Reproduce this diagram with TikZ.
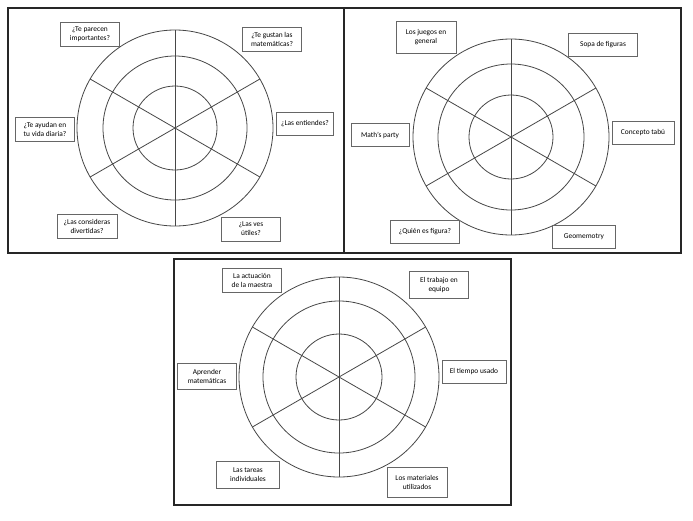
\documentclass[tikz,border=0pt]{standalone}
\usepackage{fontspec}
\setmainfont{Carlito}
\usetikzlibrary{positioning,calc}
\tikzset{
  frame/.style={draw=black!85, line width=1.8pt},
  ring/.style={draw=black!72, line width=0.8pt},
  qbox/.style={draw=black!60, line width=0.8pt, fill=white, align=center,
    font=\fontsize{7.4}{9}\selectfont, minimum width=59pt, minimum height=24pt, inner sep=1.5pt},
  wide/.style={qbox, minimum width=66pt, minimum height=23pt}}
% wheel: centre, outer, middle, inner radius
\newcommand{\wheel}[4]{%
  \foreach \r in {#2,#3,#4} \draw[ring] (#1) circle[radius=\r];
  \foreach \a in {30,90,150} \draw[ring] ($(#1)+(\a:#2)$) -- ($(#1)+(\a+180:#2)$);}

\begin{document}
\begin{tikzpicture}[x=1pt, y=-1pt]
  \useasboundingbox (0,0) rectangle (693,520);
  \fill[white] (0,0) rectangle (693,520);
  % frames
  \draw[frame] (8,8) rectangle (681,253);
  \draw[frame] (344,8) -- (344,253);
  \draw[frame] (174,259) rectangle (511,505);
  % centres
  \coordinate (attitude) at (175,128);
  \coordinate (games) at (511,137);
  \coordinate (review) at (339,377);
  \wheel{attitude}{98}{72}{42}
  \wheel{games}{98}{73}{42}
  \wheel{review}{100}{76}{43}
  % panel 1
  \node[qbox] (imp) at (90,34) {¿Te parecen\\importantes?};
  \node[qbox] (like) at (272,39) {¿Te gustan las\\matemáticas?};
  \node[qbox, minimum width=57pt, minimum height=23pt] (under) at (305,124) {¿Las entiendes?};
  \node[qbox] (daily) at (45,129) {¿Te ayudan en\\tu vida diaria?};
  \node[qbox, minimum width=60pt] (fun) at (87,226) {¿Las consideras\\divertidas?};
  \node[qbox] (use) at (251,229) {¿Las ves\\útiles?};
  % panel 2
  \node[qbox, minimum width=60pt, minimum height=32pt] (gen) at (426,37) {Los juegos en\\general};
  \node[wide, minimum width=69pt] (soup) at (603,45) {Sopa de figuras};
  \node[wide, minimum width=62pt] (taboo) at (643,133) {Concepto tabú};
  \node[qbox, minimum width=58pt, minimum height=23pt] (party) at (380,135) {Math's party};
  \node[wide, minimum width=69pt] (who) at (425,232) {¿Quién es figura?};
  \node[wide, minimum width=63pt] (memo) at (584,237) {Geomemotry};
  % panel 3
  \node[qbox] (teach) at (252,280) {La actuación\\de la maestra};
  \node[qbox, minimum height=27pt] (team) at (439,285) {El trabajo en\\equipo};
  \node[wide, minimum width=64pt] (time) at (474,372) {El tiempo usado};
  \node[qbox, minimum height=26pt] (learn) at (207,376) {Aprender\\matemáticas};
  \node[qbox, minimum width=63pt, minimum height=27pt] (tasks) at (248,475) {Las tareas\\individuales};
  \node[qbox, minimum width=60pt, minimum height=30pt] (mat) at (417,482) {Los materiales\\utilizados};
\end{tikzpicture}
\end{document}
